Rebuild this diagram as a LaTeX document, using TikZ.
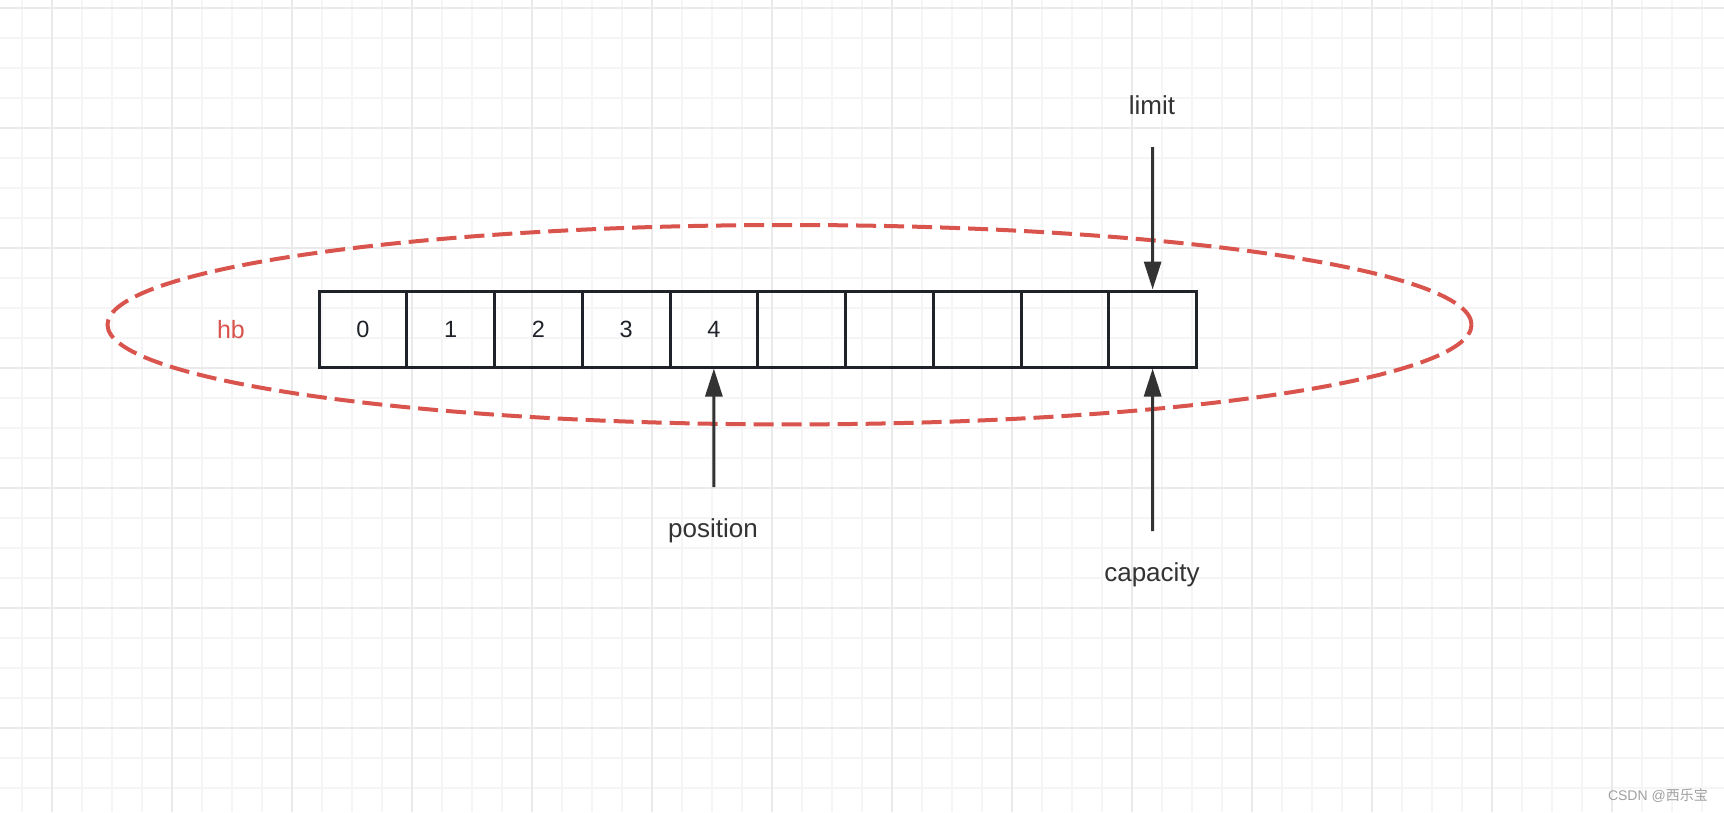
\documentclass[tikz,border=0pt]{standalone}
\usepackage{fontspec}
\setmainfont{Liberation Sans}
\newfontfamily\cjkfont{Noto Sans CJK SC}
\usetikzlibrary{arrows.meta,shapes.geometric}
\definecolor{gridminor}{HTML}{F5F5F5}
\definecolor{gridmajor}{HTML}{EAEAEA}
\definecolor{boxline}{HTML}{1F2329}
\definecolor{arrowcol}{HTML}{333333}
\definecolor{ringred}{HTML}{D9544C}
\definecolor{wmgray}{HTML}{A0A0A0}
\tikzset{
  cellbox/.style={draw=boxline, line width=3pt, minimum width=87.75pt, minimum height=76pt, inner sep=0pt, text height=16.7pt, text depth=0pt, font=\fontsize{23.5}{23.5}\selectfont, text=boxline},
  ptrarrow/.style={draw=arrowcol, line width=3pt, -{Triangle[length=28pt,width=17pt]}},
  lbl/.style={font=\fontsize{26}{26}\selectfont, text=arrowcol, anchor=base, inner sep=0pt},
  ring/.style={draw=ringred, line width=4pt, dash pattern=on 20pt off 8pt, ellipse, inner sep=0pt, minimum width=1364pt, minimum height=199.4pt},
}
\begin{document}
\begin{tikzpicture}[x=1pt,y=-1pt]
\useasboundingbox (0,0) rectangle (1724,812);
\fill[white] (0,0) rectangle (1724,812);
% grid
\foreach \gx in {22,52,...,1724} \draw[gridminor, line width=2pt] (\gx,0) -- (\gx,812);
\foreach \gy in {8,38,...,812} \draw[gridminor, line width=2pt] (0,\gy) -- (1724,\gy);
\foreach \gx in {52,172,...,1724} \draw[gridmajor, line width=2pt] (\gx,0) -- (\gx,812);
\foreach \gy in {8,128,...,812} \draw[gridmajor, line width=2pt] (0,\gy) -- (1724,\gy);
% ring
\node[ring] (hbring) at (789.5,324.7) {};
\node[lbl, text=ringred, font=\fontsize{25}{25}\selectfont] (hb) at (231,338) {hb};
% cells
\foreach \i/\t in {0/0,1/1,2/2,3/3,4/4,5/,6/,7/,8/,9/} {
  \node[cellbox] (c\i) at ({319+87.75*(\i+0.5)},329) {\t};
}
% arrows
\coordinate (limitstart) at (1152.6,147);
\coordinate (posstart) at (713.9,487);
\coordinate (capstart) at (1152.6,531);
\draw[ptrarrow] (limitstart) -- (c9.north);
\draw[ptrarrow] (posstart) -- (c4.south);
\draw[ptrarrow] (capstart) -- (c9.south);
\node[lbl] (limit) at (1152,114) {limit};
\node[lbl] (position) at (713,537) {position};
\node[lbl] (capacity) at (1152,581) {capacity};
% watermark
\node[anchor=east, inner sep=0pt, text=wmgray, font=\fontsize{14}{14}\selectfont] (wm) at (1708,796) {CSDN @{\cjkfont 西乐宝}};
\end{tikzpicture}
\end{document}
